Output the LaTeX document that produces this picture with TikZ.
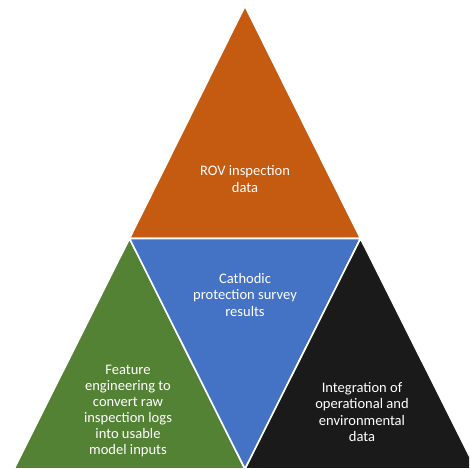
\documentclass[tikz,border=0pt]{standalone}
\usepackage{fontspec}
\setmainfont{Carlito}
\usepackage{tikz}
\usetikzlibrary{calc}
\definecolor{rovOrange}{HTML}{C55A11}
\definecolor{cpBlue}{HTML}{4472C4}
\definecolor{featGreen}{HTML}{548235}
\definecolor{opsBlack}{HTML}{1A1A1A}
\tikzset{
	piece/.style={draw=white, line width=1.6pt, line join=miter},
	label/.style={text=white, align=center, font=\fontsize{14.6}{16.2}\selectfont}
}

\begin{document}
\begin{tikzpicture}[x=1bp, y=-1bp]

	\useasboundingbox (0,0) rectangle (469,469);
	\clip (0,0) rectangle (469,469);

	\coordinate (T) at (245,6);
	\coordinate (L) at (129.5,238.5);
	\coordinate (R) at (360.5,238.5);
	\coordinate (BL) at (14,469);
	\coordinate (BM) at (245,469);
	\coordinate (BR) at (476,469);

	\filldraw[piece, fill=rovOrange] (T) -- (L) -- (R) -- cycle;
	\filldraw[piece, fill=featGreen] (L) -- (BL) -- (BM) -- cycle;
	\filldraw[piece, fill=cpBlue] (L) -- (R) -- (BM) -- cycle;
	\filldraw[piece, fill=opsBlack] (R) -- (BM) -- (BR) -- cycle;

	\node[label] (rov) at (245,179) {ROV inspection\\data};
	\node[label] (cp) at (245,295) {Cathodic\\protection survey\\results};
	\node[label] (feat) at (128,411) {Feature\\engineering to\\convert raw\\inspection logs\\into usable\\model inputs};
	\node[label] (ops) at (362,412) {Integration of\\operational and\\environmental\\data};

\end{tikzpicture}
\end{document}
